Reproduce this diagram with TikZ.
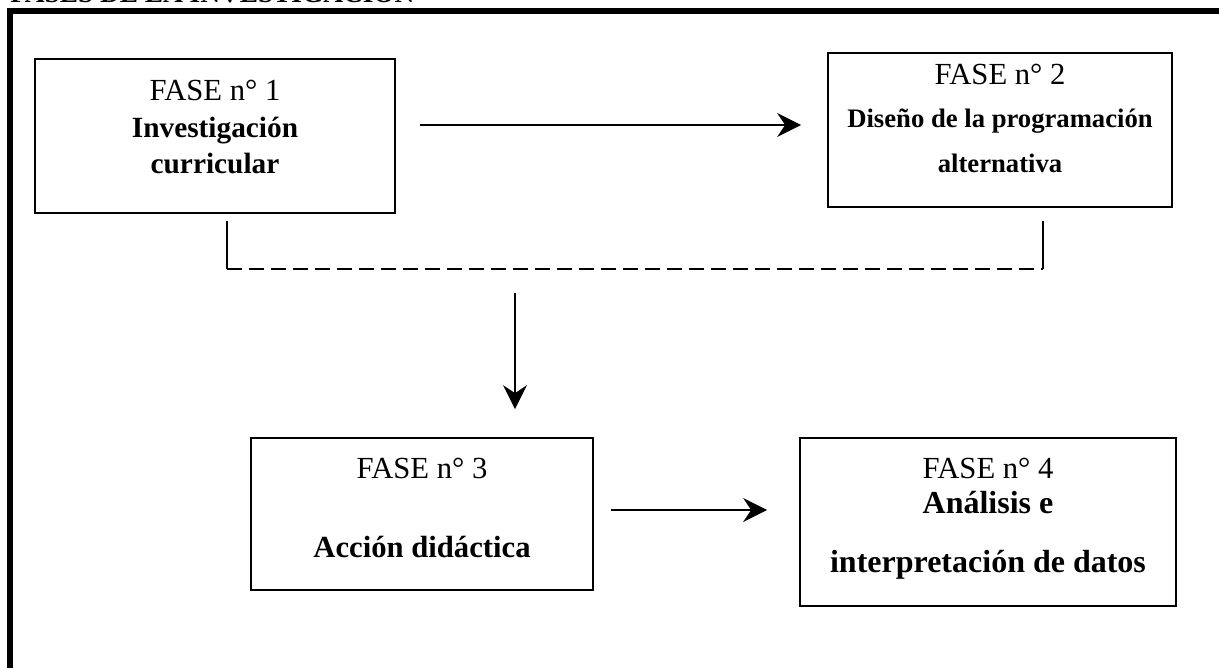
\documentclass[tikz,border=0pt]{standalone}
\usepackage{fontspec}
\setmainfont{Liberation Serif}
\usetikzlibrary{arrows.meta}
\begin{document}
\begin{tikzpicture}[x=0.75pt,y=-0.75pt,
  phasebox/.style={draw, line width=1.3pt, inner sep=0pt},
  regtxt/.style={anchor=base, inner sep=0pt, font=\fontsize{23}{27}\selectfont},
  boldtxt/.style={anchor=base, inner sep=0pt, font=\bfseries\fontsize{23}{27}\selectfont},
  flow/.style={line width=1.5pt, -{Stealth[length=18pt,width=18pt,inset=6pt]}},
  bracketline/.style={line width=1.4pt},
]
\useasboundingbox (0,0) rectangle (1219,668);
\clip (0,0) rectangle (1219,668);
% cut title
\node[anchor=base west, inner sep=0pt, font=\bfseries\fontsize{20.5}{24}\selectfont] (title) at (10,2.3) {FASES DE LA INVESTIGACION};
% frame
\draw[line width=4.5pt] (10,668) -- (10,11) -- (1219,11);
% boxes
\node[phasebox, minimum width=360*0.75pt, minimum height=154*0.75pt] (f1) at (215,136) {};
\node[phasebox, minimum width=344*0.75pt, minimum height=154*0.75pt] (f2) at (1000,130) {};
\node[phasebox, minimum width=342*0.75pt, minimum height=152*0.75pt] (f3) at (422,514) {};
\node[phasebox, minimum width=376*0.75pt, minimum height=168*0.75pt] (f4) at (988,522) {};
% texts
\node[regtxt] (f1a) at (215,100) {FASE n° 1};
\node[boldtxt, font=\bfseries\fontsize{22}{26}\selectfont] (f1b) at (215,137) {Investigación};
\node[boldtxt, font=\bfseries\fontsize{22}{26}\selectfont] (f1c) at (215,173) {curricular};
\node[regtxt] (f2a) at (1000,84) {FASE n° 2};
\node[boldtxt, font=\bfseries\fontsize{20}{24}\selectfont] (f2b) at (1000,127) {Diseño de la programación};
\node[boldtxt, font=\bfseries\fontsize{20}{24}\selectfont] (f2c) at (1000,172) {alternativa};
\node[regtxt] (f3a) at (422,478) {FASE n° 3};
\node[boldtxt] (f3b) at (422,557) {Acción didáctica};
\node[regtxt] (f4a) at (988,478) {FASE n° 4};
\node[boldtxt, font=\bfseries\fontsize{24}{28}\selectfont] (f4b) at (988,513) {Análisis e};
\node[boldtxt, font=\bfseries\fontsize{24}{28}\selectfont] (f4c) at (988,572) {interpretación de datos};
% arrows
\draw[flow, shorten <=18pt, shorten >=19.5pt] (f1.east |- 0,125) -- (f2.west |- 0,125);
\coordinate (b1top) at (227,221);
\coordinate (b1bot) at (227,269);
\coordinate (b2top) at (1043,221);
\coordinate (b2bot) at (1043,269);
\draw[bracketline] (b1top) -- (b1bot);
\draw[bracketline, dash pattern=on 11.25pt off 5.25pt] (b1bot) -- (b2bot);
\draw[bracketline] (b2bot) -- (b2top);
\coordinate (d0) at (515,293);
\draw[flow, shorten >=21pt] (d0) -- (f3.north -| d0);
\draw[flow, shorten <=12.75pt, shorten >=24pt] (f3.east |- 0,510) -- (f4.west |- 0,510);
\end{tikzpicture}
\end{document}
